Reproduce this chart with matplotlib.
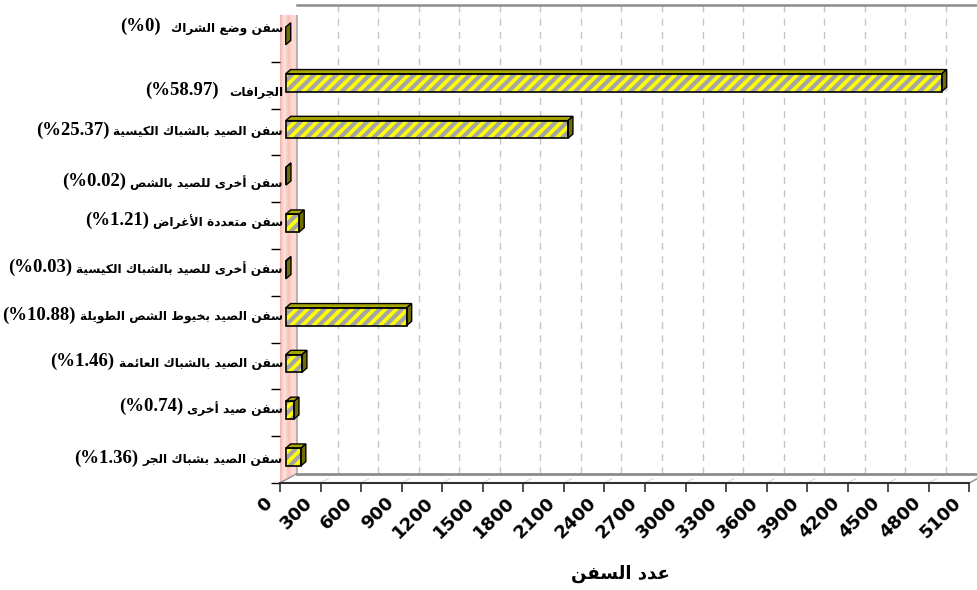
import numpy as np
import matplotlib
matplotlib.use('Agg')
import matplotlib.pyplot as plt
from matplotlib.patches import Polygon, Rectangle
from matplotlib.colors import LinearSegmentedColormap
from matplotlib.transforms import ScaledTranslation

# categories, top to bottom as in the chart
names = ['سفن وضع الشراك', 'الجرافات', 'سفن الصيد بالشباك الكيسية',
         'سفن أخرى للصيد بالشص', 'سفن متعددة الأغراض',
         'سفن أخرى للصيد بالشباك الكيسية', 'سفن الصيد بخيوط الشص الطويلة',
         'سفن الصيد بالشباك العائمة', 'سفن صيد أخرى', 'سفن الصيد بشباك الجر']
shares = ['0', '58.97', '25.37', '0.02', '1.21', '0.03', '10.88', '1.46', '0.74', '1.36']
vessels = [0, 4853, 2088, 2, 100, 2, 895, 120, 61, 112]
xticks = list(range(0, 5101, 300))
xtitle = 'عدد السفن'

# --- minimal arabic shaping (matplotlib does no contextual forms / rtl) ---
FORMS = {'ء': (0xFE80, 1), 'آ': (0xFE81, 2), 'أ': (0xFE83, 2), 'ؤ': (0xFE85, 2),
         'إ': (0xFE87, 2), 'ئ': (0xFE89, 4), 'ا': (0xFE8D, 2), 'ب': (0xFE8F, 4),
         'ة': (0xFE93, 2), 'ت': (0xFE95, 4), 'ث': (0xFE99, 4), 'ج': (0xFE9D, 4),
         'ح': (0xFEA1, 4), 'خ': (0xFEA5, 4), 'د': (0xFEA9, 2), 'ذ': (0xFEAB, 2),
         'ر': (0xFEAD, 2), 'ز': (0xFEAF, 2), 'س': (0xFEB1, 4), 'ش': (0xFEB5, 4),
         'ص': (0xFEB9, 4), 'ض': (0xFEBD, 4), 'ط': (0xFEC1, 4), 'ظ': (0xFEC5, 4),
         'ع': (0xFEC9, 4), 'غ': (0xFECD, 4), 'ف': (0xFED1, 4), 'ق': (0xFED5, 4),
         'ك': (0xFED9, 4), 'ل': (0xFEDD, 4), 'م': (0xFEE1, 4), 'ن': (0xFEE5, 4),
         'ه': (0xFEE9, 4), 'و': (0xFEED, 2), 'ى': (0xFEEF, 2), 'ي': (0xFEF1, 4)}
LAM_ALEF = {'آ': 0xFEF5, 'أ': 0xFEF7, 'إ': 0xFEF9, 'ا': 0xFEFB}


def shape(text):
    chars = []
    i = 0
    while i < len(text):
        if text[i] == 'ل' and i + 1 < len(text) and text[i + 1] in LAM_ALEF:
            chars.append(('LA', text[i + 1]))
            i += 2
        else:
            chars.append((text[i], None))
            i += 1
    out = []
    for k, (c, a) in enumerate(chars):
        prev = chars[k - 1][0] if k > 0 else None
        nxt = chars[k + 1][0] if k + 1 < len(chars) else None
        jp = prev in FORMS and FORMS[prev][1] == 4
        if c == 'LA':
            out.append(chr(LAM_ALEF[a] + (1 if jp else 0)))
            continue
        if c not in FORMS:
            out.append(c)
            continue
        base, n = FORMS[c]
        jn = n == 4 and (nxt in FORMS or nxt == 'LA')
        if n == 1:
            f = 0
        elif jp and jn:
            f = 3
        elif jp:
            f = 1
        elif jn:
            f = 2
        else:
            f = 0
        out.append(chr(base + f))
    return ''.join(out)[::-1]


plt.rcParams['hatch.linewidth'] = 3

W, H = 977, 590
fig = plt.figure(figsize=(W / 100, H / 100), dpi=100)
ax = fig.add_axes([280 / W, 107 / H, 697 / W, 468 / H])
n = len(names)
xmax = 697 * 300 / 40.55
px = xmax / 697        # data units per pixel (x)
py = 1 / 46.8          # data units per pixel (y)

# 3d depth offsets
wdx, wdy = 17 * px, -9.5 * py        # wall / floor depth
fdx, fdy = 5.7 * px, -2.5 * py       # bar front face
ddx, ddy = 5 * px, -4.3 * py         # bar depth
h = 8.85 * py                        # half bar height
ybot, ytop = n - 0.5, -0.5
xend = xticks[-1]

# pink side wall
wall = Polygon([(0, ybot), (0, ytop), (wdx, ytop + wdy), (wdx, ybot + wdy)],
               closed=True, fc='none', ec='none', zorder=1)
ax.add_patch(wall)
cm = LinearSegmentedColormap.from_list('wall', ['#f4b4ac', '#ffe6e0', '#f9c0b8', '#ffdcd6', '#ffd2cb'])
im = ax.imshow(np.linspace(0, 1, 50)[None, :], cmap=cm, aspect='auto',
               extent=(0, wdx, ybot, ytop + wdy), zorder=1)
im.set_clip_path(wall)
ax.plot([wdx, wdx], [ybot + wdy, ytop + wdy], color='#a8a8a8', lw=1.2, zorder=2)
ax.plot([0, wdx], [ytop, ytop + wdy], color='#707070', lw=0.8, zorder=2)

# back wall border, floor
ax.plot([wdx, xmax + 50], [ytop + wdy] * 2, color='#8c8c8c', lw=1.8, zorder=2, clip_on=False)
ax.plot([wdx, xmax + 50], [ybot + wdy] * 2, color='#8c8c8c', lw=2, zorder=2, clip_on=False)
ax.plot([0, wdx], [ybot, ybot + wdy], color='#909090', lw=1, zorder=2)
ax.plot([xend, xend + wdx], [ybot, ybot + wdy], color='#909090', lw=1, zorder=2, clip_on=False)
for t in xticks[1:-1]:
    ax.plot([t, t + 0.45 * wdx], [ybot, ybot + 0.45 * wdy], color='#d8d8d8', lw=0.8, zorder=2)

# dashed grid on back wall
for t in xticks[1:]:
    ax.plot([t + wdx, t + wdx], [ytop + wdy, ybot + wdy], color='#c4c4c4', lw=1,
            ls=(0, (5, 4.5)), zorder=1.5, clip_on=False)

# bars
for k, v in enumerate(vessels):
    top = k + fdy - h
    bot = k + fdy + h
    x0, x1 = fdx, fdx + v
    if v > 0:
        ax.add_patch(Rectangle((x0, top), v, 2 * h, fc='#ffff00', ec='#a4a4a4',
                               lw=0, hatch='///', zorder=4))
        ax.add_patch(Rectangle((x0, top), v, 2 * h, fc='none', ec='black', lw=1.2, zorder=5))
        ax.add_patch(Polygon([(x0, top), (x1, top), (x1 + ddx, top + ddy), (x0 + ddx, top + ddy)],
                             closed=True, fc='#a8a800', ec='black', lw=1, zorder=4))
    ax.add_patch(Polygon([(x1, top), (x1, bot), (x1 + ddx, bot + ddy), (x1 + ddx, top + ddy)],
                         closed=True, fc='#6e6e00', ec='black', lw=1, zorder=4))

# category labels: arabic name next to the wall, share in brackets to its left
label_shift = [-0.22, 0.15, 0, 0.08, -0.08, -0.08, -0.06, -0.06, -0.1, 0]
for k, (nm, s) in enumerate(zip(names, shares)):
    t_ar = ax.text(3 * px, k + label_shift[k], shape(nm), ha='right', va='center',
                   fontsize=8.8, fontweight='bold', family='DejaVu Sans',
                   zorder=6, clip_on=False)
    gap = 7 if k < 2 else 3
    ax.annotate('(%' + s + ')', xy=(0, 0.5), xycoords=t_ar, xytext=(-gap, 1),
                textcoords='offset points', ha='right', va='center',
                fontsize=13.5, fontweight='bold', family='Liberation Serif',
                zorder=6, annotation_clip=False)

# axes / ticks
ax.set_xlim(0, xmax)
ax.set_ylim(ybot, ytop)
for s in ['top', 'right', 'left']:
    ax.spines[s].set_visible(False)
ax.spines['bottom'].set_bounds(0, xend)
ax.spines['bottom'].set_color('#303030')
ax.spines['bottom'].set_linewidth(1.5)
ax.set_xticks(xticks)
ax.set_xticklabels([str(t) for t in xticks], rotation=45, ha='right', va='center',
                   rotation_mode='anchor', fontsize=13, fontweight='bold')
ax.tick_params(axis='x', length=6.5, width=1.2, color='#303030', pad=1)
shift = ScaledTranslation(-11 / 100, -7 / 100, fig.dpi_scale_trans)
for lab in ax.get_xticklabels():
    lab.set_transform(lab.get_transform() + shift)
ax.set_yticks(np.arange(0.5, n, 1))
ax.set_yticklabels([])
ax.tick_params(axis='y', length=6.5, width=1, color='black')
ax.set_xlabel(shape(xtitle), fontsize=13, fontweight='bold', family='DejaVu Sans')
ax.xaxis.set_label_coords((620 - 280) / 697, -82 / 468)

fig.savefig('out.png', dpi=100)
